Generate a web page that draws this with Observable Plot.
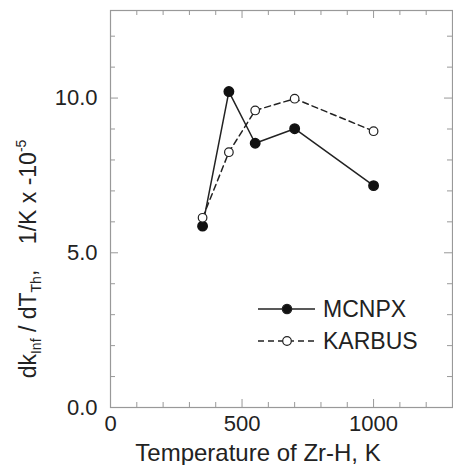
<!DOCTYPE html>
<html><head><meta charset="utf-8">
<script src="https://cdn.jsdelivr.net/npm/d3@7"></script>
<script src="https://cdn.jsdelivr.net/npm/@observablehq/plot@0.6"></script>
<style>body{margin:0;background:#fff}</style>
</head><body><div id="chart"></div>
<script>
const temps = [350, 450, 550, 700, 1000];
const mcnpx = [5.86, 10.21, 8.54, 9.01, 7.17];
const karbus = [6.13, 8.25, 9.60, 9.98, 8.93];
const xMajor = [0, 500, 1000];
const xMinor = [100,200,300,400,600,700,800,900,1100,1200];
const yMajor = [0, 5, 10];
const yMinor = [1,2,3,4,6,7,8,9,11,12];

const W = 453, H = 465, mL = 110, mR = 1, mT = 10, mB = 58;
const iw = W - mL - mR, ih = H - mT - mB;
const font = "Liberation Sans, Arial, Helvetica, sans-serif";
const ink = "#222", frameC = "#999";
const rowsM = temps.map((t,i)=>({t, v: mcnpx[i]}));
const rowsK = temps.map((t,i)=>({t, v: karbus[i]}));
const tk = ()=>({stroke: frameC, strokeWidth: 1});

const chart = Plot.plot({
  width: W, height: H, marginLeft: mL, marginRight: mR, marginTop: mT, marginBottom: mB,
  x: {domain: [0, 1300]},
  y: {domain: [0, 12.83]},
  style: {fontFamily: font, background: "#fff", color: ink},
  marks: [
    Plot.frame({stroke: frameC, strokeWidth: 1.2}),
    Plot.tickX(xMinor, {x: d=>d, insetTop: ih-5, ...tk()}),
    Plot.tickX(xMinor, {x: d=>d, insetBottom: ih-5, ...tk()}),
    Plot.tickX(xMajor.slice(1), {x: d=>d, insetTop: ih-8, ...tk()}),
    Plot.tickX(xMajor.slice(1), {x: d=>d, insetBottom: ih-8, ...tk()}),
    Plot.tickY(yMinor, {y: d=>d, insetRight: iw-5, ...tk()}),
    Plot.tickY(yMinor, {y: d=>d, insetLeft: iw-5, ...tk()}),
    Plot.tickY(yMajor.slice(1), {y: d=>d, insetRight: iw-8, ...tk()}),
    Plot.tickY(yMajor.slice(1), {y: d=>d, insetLeft: iw-8, ...tk()}),
    Plot.axisX({ticks: xMajor, tickSize: 0, tickPadding: 8, fontSize: 22, label: null, tickFormat: d=>String(d)}),
    Plot.axisY({ticks: yMajor, tickSize: 0, tickPadding: 13, fontSize: 22, label: null, tickFormat: d=>d.toFixed(1)}),
    Plot.line(rowsM, {x: "t", y: "v", stroke: ink, strokeWidth: 1.5}),
    Plot.line(rowsK, {x: "t", y: "v", stroke: ink, strokeWidth: 1.5, strokeDasharray: "6,4"}),
    Plot.dot(rowsM, {x: "t", y: "v", r: 4.7, fill: "#111", stroke: "#111"}),
    Plot.dot(rowsK, {x: "t", y: "v", r: 4.3, fill: "#fff", stroke: ink, strokeWidth: 1.2})
  ]
});
document.getElementById("chart").appendChild(chart);

const svg = d3.select(chart);
// x label
svg.append("text").attr("x", 258).attr("y", 461).attr("text-anchor", "middle")
  .attr("font-family", font).attr("font-size", 24).attr("fill", ink)
  .text("Temperature of Zr-H, K");
// y label
const yl = svg.append("text").attr("transform", "translate(36,259) rotate(-90)")
  .attr("text-anchor", "middle").attr("font-family", font).attr("font-size", 23).attr("fill", ink)
  .attr("xml:space", "preserve");
yl.append("tspan").text("dk");
yl.append("tspan").attr("font-size", 14).attr("dy", 5).text("Inf");
yl.append("tspan").attr("dy", -5).text(" / dT");
yl.append("tspan").attr("font-size", 14).attr("dy", 5).text("Th");
yl.append("tspan").attr("dy", -5).text(",    1/K x -10");
yl.append("tspan").attr("font-size", 14).attr("dy", -10).text("-5");
// legend
const lg = svg.append("g").attr("font-family", font).attr("font-size", 23).attr("fill", ink);
const rows = [{name: "MCNPX", y: 309, dash: null, fill: "#111", r: 4.7},
              {name: "KARBUS", y: 341, dash: "6,4", fill: "#fff", r: 4.3}];
for (const r of rows) {
  lg.append("line").attr("x1", 258).attr("x2", 315).attr("y1", r.y).attr("y2", r.y)
    .attr("stroke", ink).attr("stroke-width", 1.5).attr("stroke-dasharray", r.dash);
  lg.append("circle").attr("cx", 287).attr("cy", r.y).attr("r", r.r)
    .attr("fill", r.fill).attr("stroke", ink).attr("stroke-width", 1.2);
  lg.append("text").attr("x", 323).attr("y", r.y + 8).attr("text-anchor", "start").text(r.name);
}
</script></body></html>
